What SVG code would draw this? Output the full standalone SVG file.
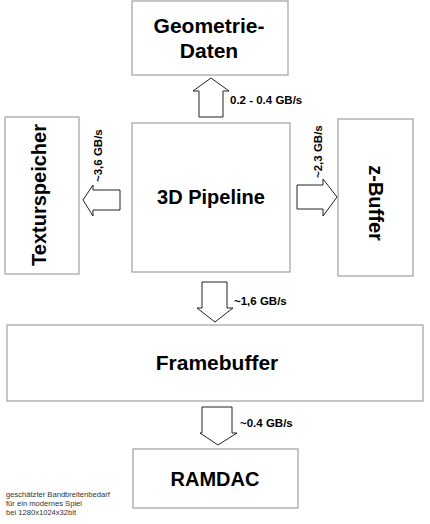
<svg xmlns="http://www.w3.org/2000/svg" width="430" height="524" viewBox="0 0 430 524">
<style>
.box{fill:#fff;stroke:#a0a0a0;stroke-width:1.2}
.arr{fill:#fff;stroke:#222;stroke-width:1}
.big{font-family:"Liberation Sans",Arial,sans-serif;font-weight:bold;font-size:20px;fill:#000;text-anchor:middle}
.lbl{font-family:"Liberation Sans",Arial,sans-serif;font-weight:bold;font-size:11.5px;fill:#000}
.note{font-family:"Liberation Sans",Arial,sans-serif;font-size:7.6px;fill:#333}
</style>
<rect width="430" height="524" fill="#fff"/>
<g id="geometrie">
<rect class="box" x="132" y="1" width="156" height="74"/>
<text class="big" x="209" y="33" style="font-size:21px">Geometrie-</text>
<text class="big" x="209" y="58" style="font-size:21px">Daten</text>
</g>
<g id="pipeline">
<rect class="box" x="132" y="123" width="158" height="149"/>
<text class="big" x="211" y="204">3D Pipeline</text>
</g>
<g id="textur">
<rect class="box" x="5" y="117" width="74" height="157"/>
<text class="big" transform="translate(46,195) rotate(-90)">Texturspeicher</text>
</g>
<g id="zbuffer">
<rect class="box" x="338" y="119" width="75" height="157"/>
<text class="big" transform="translate(369,203) rotate(90)">z-Buffer</text>
</g>
<g id="framebuffer">
<rect class="box" x="7" y="325" width="416" height="76"/>
<text class="big" x="217" y="370" style="font-size:21px">Framebuffer</text>
</g>
<g id="ramdac">
<rect class="box" x="133" y="449" width="165" height="59"/>
<text class="big" x="215" y="486">RAMDAC</text>
</g>
<g id="connectors">
<polygon class="arr" points="199,117 199,91 193,91 211,78 229,91 223,91 223,117"/>
<text class="lbl" x="230" y="104">0.2 - 0.4 GB/s</text>
<polygon class="arr" points="120,190 93,190 93,185 83,200 93,216 93,210 120,210"/>
<text class="lbl" transform="translate(102,182) rotate(-90)">~3,6 GB/s</text>
<polygon class="arr" points="297,185 323,185 323,179 337,197 323,216 323,209 297,209"/>
<text class="lbl" transform="translate(322,178) rotate(-90)">~2,3 GB/s</text>
<polygon class="arr" points="202,282 227,282 227,308 233,308 215,322 197,308 202,308"/>
<text class="lbl" x="234" y="305">~1,6 GB/s</text>
<polygon class="arr" points="202,407 232,407 232,433 237,433 218,445 200,433 202,433"/>
<text class="lbl" x="240" y="427">~0.4 GB/s</text>
</g>
<g id="note">
<text class="note" x="6" y="497">geschätzter Bandbreitenbedarf</text>
<text class="note" x="6" y="506">für ein modernes Spiel</text>
<text class="note" x="6" y="515">bei 1280x1024x32bit</text>
</g>
</svg>
